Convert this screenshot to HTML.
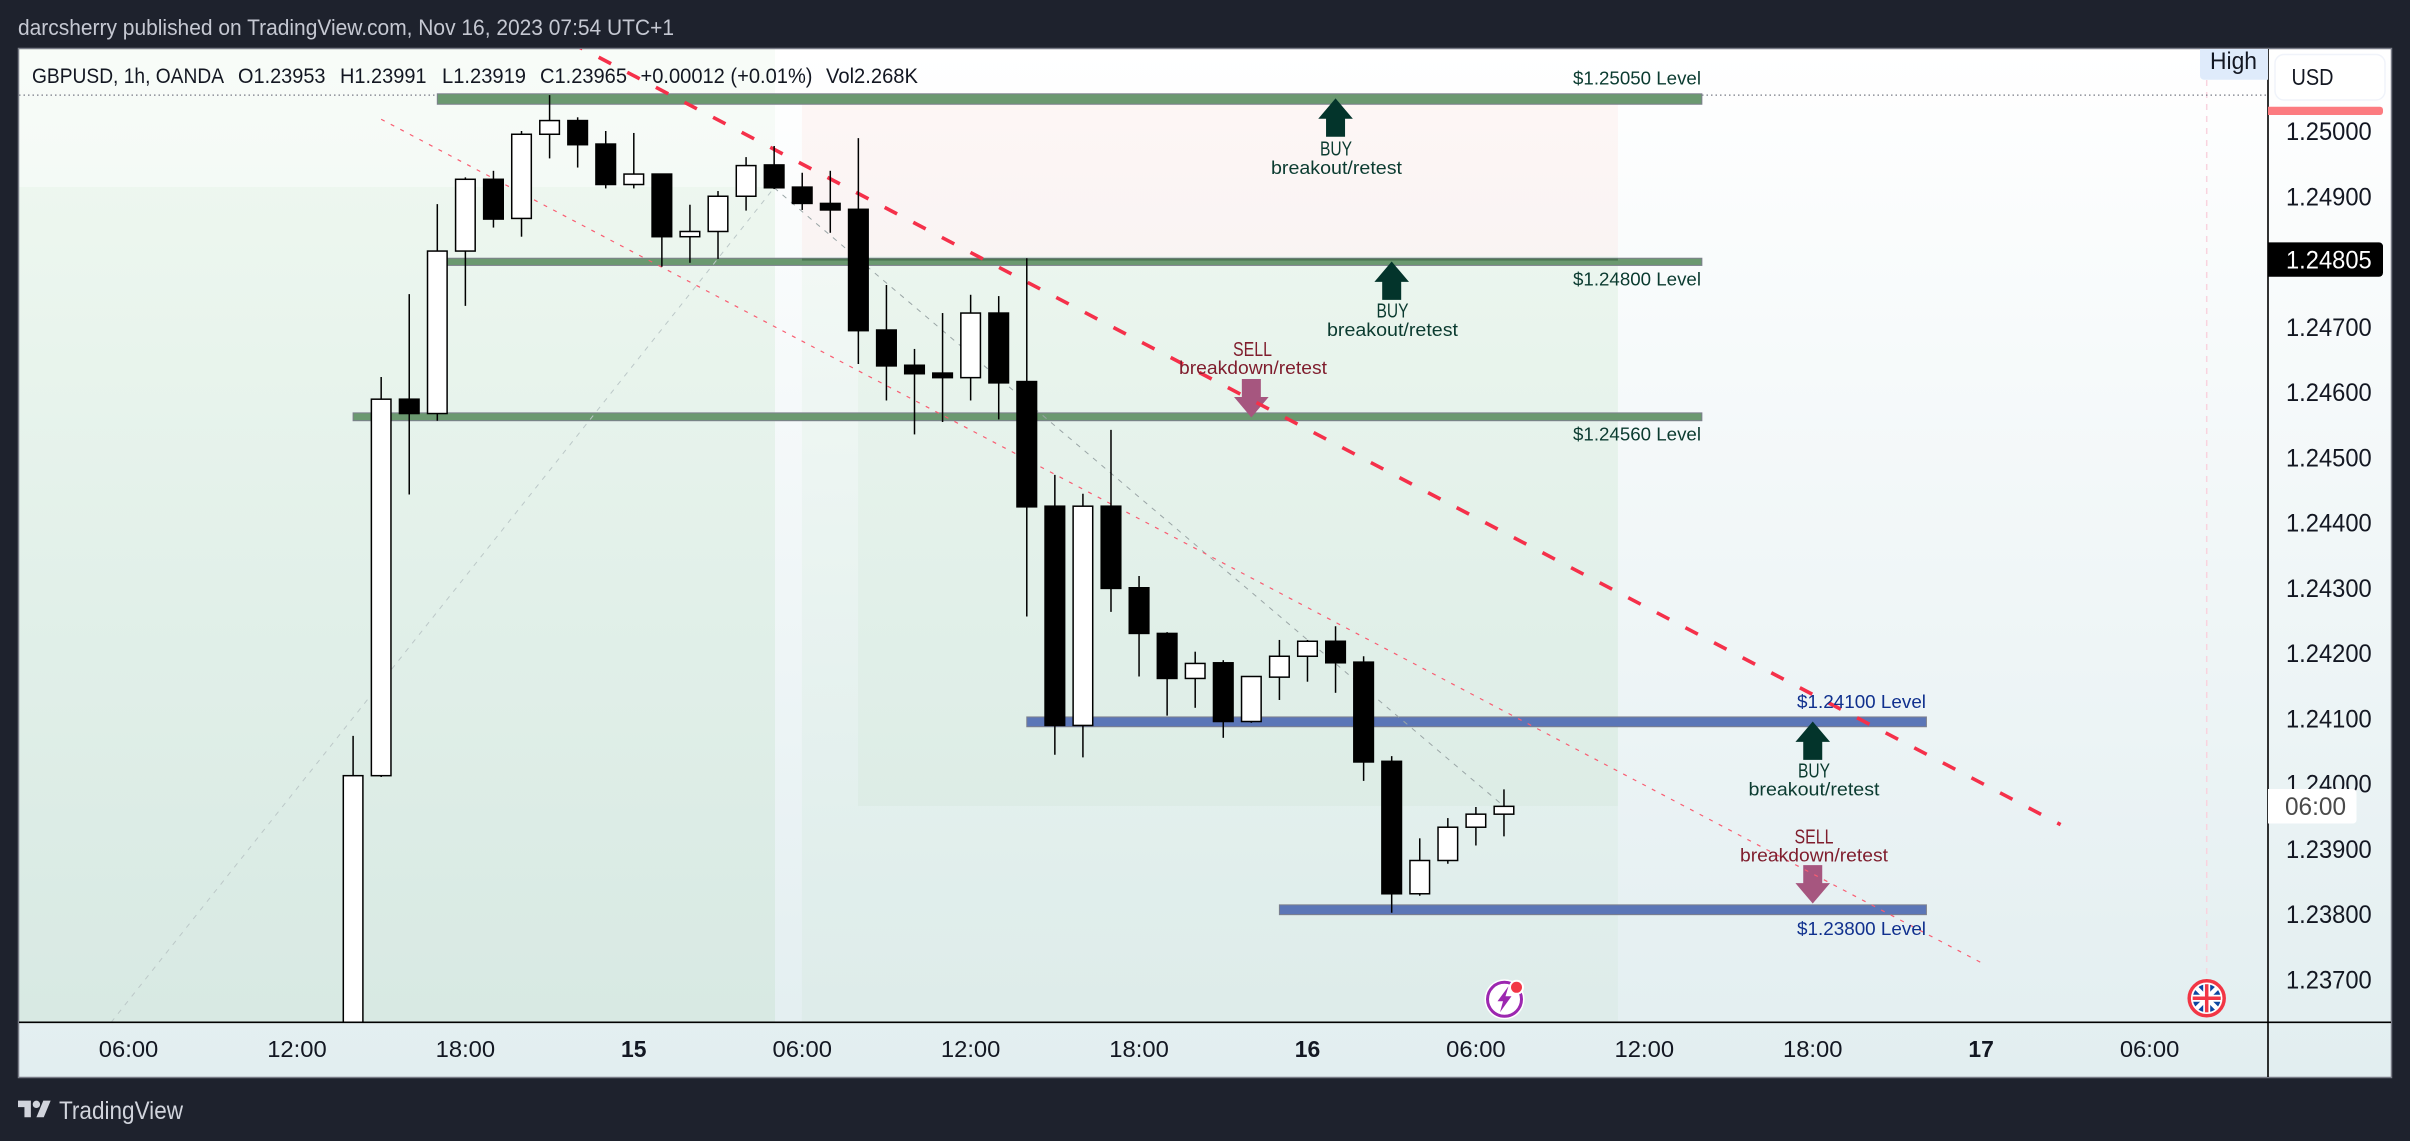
<!DOCTYPE html>
<html lang="en">
<head>
<meta charset="utf-8">
<title>GBPUSD 1h chart</title>
<style>
html,body{margin:0;padding:0;background:#1e222d;width:2410px;height:1141px;overflow:hidden}
svg{display:block}
text{font-family:"Liberation Sans",sans-serif}
</style>
</head>
<body>
<svg id="chart" xmlns="http://www.w3.org/2000/svg" width="2410" height="1141" viewBox="0 0 2410 1141">
  <defs>
    <linearGradient id="paneGrad" x1="0" y1="0" x2="0" y2="1">
      <stop offset="0" stop-color="#ffffff"/>
      <stop offset="1" stop-color="#e2eef0"/>
    </linearGradient>
    <clipPath id="paneClip"><rect x="19" y="49" width="2249" height="973"/></clipPath>
  </defs>
  <rect x="0" y="0" width="2410" height="1141" fill="#1e222d"/>
  <text x="18" y="35" font-size="22" fill="#c5c8d2" textLength="656" lengthAdjust="spacingAndGlyphs">darcsherry published on TradingView.com, Nov 16, 2023 07:54 UTC+1</text>
  <rect x="18.5" y="48.5" width="2373" height="1029" fill="url(#paneGrad)" stroke="#787b86" stroke-width="1.5"/>
  <g id="paneLayer" clip-path="url(#paneClip)"></g>
  <g font-size="18">
    <text x="1573" y="84.5" fill="#0b3b30" textLength="128" lengthAdjust="spacingAndGlyphs">$1.25050 Level</text>
    <text x="1573" y="285.5" fill="#0b3b30" textLength="128" lengthAdjust="spacingAndGlyphs">$1.24800 Level</text>
    <text x="1573" y="440.5" fill="#0b3b30" textLength="128" lengthAdjust="spacingAndGlyphs">$1.24560 Level</text>
    <text x="1797" y="708" fill="#10308e" textLength="129" lengthAdjust="spacingAndGlyphs">$1.24100 Level</text>
    <text x="1797" y="935" fill="#10308e" textLength="129" lengthAdjust="spacingAndGlyphs">$1.23800 Level</text>
    <text x="1320" y="155.5" fill="#0b3b30" font-size="20" textLength="32" lengthAdjust="spacingAndGlyphs">BUY</text>
    <text x="1271" y="174" fill="#0b3b30" textLength="131" lengthAdjust="spacingAndGlyphs">breakout/retest</text>
    <text x="1376.5" y="317.5" fill="#0b3b30" font-size="20" textLength="32" lengthAdjust="spacingAndGlyphs">BUY</text>
    <text x="1327" y="336" fill="#0b3b30" textLength="131" lengthAdjust="spacingAndGlyphs">breakout/retest</text>
    <text x="1798" y="777.5" fill="#0b3b30" font-size="20" textLength="32" lengthAdjust="spacingAndGlyphs">BUY</text>
    <text x="1748.5" y="795.5" fill="#0b3b30" textLength="131" lengthAdjust="spacingAndGlyphs">breakout/retest</text>
    <text x="1233" y="356" fill="#7f1d2d" font-size="20" textLength="39" lengthAdjust="spacingAndGlyphs">SELL</text>
    <text x="1179" y="374" fill="#7f1d2d" textLength="148" lengthAdjust="spacingAndGlyphs">breakdown/retest</text>
    <text x="1794.5" y="843.5" fill="#7f1d2d" font-size="20" textLength="39" lengthAdjust="spacingAndGlyphs">SELL</text>
    <text x="1740" y="861.5" fill="#7f1d2d" textLength="148" lengthAdjust="spacingAndGlyphs">breakdown/retest</text>
  </g>
  <g font-size="21" fill="#131722">
    <text x="32" y="83" textLength="192" lengthAdjust="spacingAndGlyphs">GBPUSD, 1h, OANDA</text>
    <text x="238" y="83" textLength="87.5" lengthAdjust="spacingAndGlyphs">O1.23953</text>
    <text x="340" y="83" textLength="86.5" lengthAdjust="spacingAndGlyphs">H1.23991</text>
    <text x="442" y="83" textLength="84" lengthAdjust="spacingAndGlyphs">L1.23919</text>
    <text x="540" y="83" textLength="87" lengthAdjust="spacingAndGlyphs">C1.23965</text>
    <text x="640.5" y="83" textLength="172" lengthAdjust="spacingAndGlyphs">+0.00012 (+0.01%)</text>
    <text x="826" y="83" textLength="92" lengthAdjust="spacingAndGlyphs">Vol2.268K</text>
  </g>
  <g id="axisLayer"></g>
  <path d="M2200 49H2268V79.7H2204a4 4 0 0 1-4-4Z" fill="#dfebfb"/>
  <text x="2210" y="69" font-size="24" fill="#131722" textLength="47" lengthAdjust="spacingAndGlyphs">High</text>
  <rect x="2275" y="54.5" width="110" height="45.5" rx="9" fill="#ffffff" stroke="#f0f3fa" stroke-width="1.5"/>
  <text x="2291.5" y="85" font-size="23" fill="#131722" textLength="42" lengthAdjust="spacingAndGlyphs">USD</text>
  <g transform="translate(1504.5 999.3)">
    <circle r="20" fill="#ffffff"/>
    <circle r="17" fill="#ffffff" stroke="#9c27b0" stroke-width="3"/>
    <path d="M4-13-7 2H-1.500L-4.500 13 7-3H1Z" fill="#9c27b0"/>
    <circle cx="12" cy="-12" r="7.5" fill="#ffffff"/>
    <circle cx="12" cy="-12" r="5.5" fill="#f23645"/>
  </g>
  <g transform="translate(2206.7 998.3)">
    <circle r="17.5" fill="#ffffff" stroke="#f23645" stroke-width="3.5"/>
    <circle r="14" fill="#0c47a1"/>
    <path d="M-10-10 10 10M10-10-10 10" stroke="#ffffff" stroke-width="4.5"/>
    <path d="M0-14V14M-14 0H14" stroke="#ffffff" stroke-width="7"/>
    <path d="M0-14V14M-14 0H14" stroke="#f23645" stroke-width="3.5"/>
  </g>
  <g transform="translate(18 1097) scale(.92)">
    <path d="M14 22H7V11H0V4h14v18zM28 22h-8l7.5-18h8L28 22z" fill="#d1d4dc"/>
    <circle cx="20" cy="8" r="4" fill="#d1d4dc"/>
  </g>
  <text x="59" y="1119" font-size="25" fill="#d1d4dc" textLength="124" lengthAdjust="spacingAndGlyphs">TradingView</text>
</svg>
<script>
// Candle values (price)
const candleOpen  = [1.23620,1.24012,1.24589,1.24567,1.24816,1.24926,1.24866,1.24995,1.25016,1.24980,1.24918,1.24934,1.24838,1.24846,1.24900,1.24948,1.24914,1.24889,1.24880,1.24695,1.24641,1.24629,1.24622,1.24721,1.24616,1.24425,1.24089,1.24425,1.24300,1.24230,1.24161,1.24185,1.24095,1.24163,1.24195,1.24218,1.24186,1.24034,1.23831,1.23882,1.23933,1.23953];
const candleHigh  = [1.24073,1.24623,1.24750,1.24888,1.24929,1.24939,1.25000,1.25055,1.25021,1.25000,1.24997,1.24934,1.24887,1.24908,1.24960,1.24977,1.24936,1.24939,1.24989,1.24764,1.24666,1.24721,1.24749,1.24747,1.24805,1.24473,1.24444,1.24542,1.24318,1.24232,1.24202,1.24189,1.24164,1.24220,1.24220,1.24241,1.24195,1.24042,1.23916,1.23947,1.23964,1.23991];
const candleLow   = [1.23600,1.24010,1.24443,1.24556,1.24732,1.24852,1.24838,1.24958,1.24944,1.24912,1.24912,1.24792,1.24798,1.24804,1.24878,1.24911,1.24879,1.24844,1.24643,1.24587,1.24535,1.24554,1.24587,1.24558,1.24256,1.24044,1.24040,1.24263,1.24164,1.24104,1.24116,1.24070,1.24093,1.24128,1.24156,1.24139,1.24004,1.23802,1.23828,1.23877,1.23905,1.23919];
const candleClose = [1.24012,1.24589,1.24567,1.24816,1.24926,1.24865,1.24995,1.25016,1.24979,1.24918,1.24934,1.24838,1.24846,1.24900,1.24947,1.24913,1.24889,1.24879,1.24694,1.24640,1.24628,1.24622,1.24721,1.24614,1.24424,1.24089,1.24425,1.24299,1.24230,1.24161,1.24184,1.24095,1.24164,1.24195,1.24218,1.24185,1.24033,1.23831,1.23882,1.23933,1.23953,1.23965];

// Axis ticks
const priceTicks = [1.25000,1.24900,1.24800,1.24700,1.24600,1.24500,1.24400,1.24300,1.24200,1.24100,1.24000,1.23900,1.23800,1.23700];
const timeTickBars = [-8,-2,4,10,16,22,28,34,40,46,52,58,64];
const timeTickLabels = ["06:00","12:00","18:00","15","06:00","12:00","18:00","16","06:00","12:00","18:00","17","06:00"];

// Level zones: price top / bottom, bar start / end
const zoneTops    = [1.25057,1.24805,1.24568,1.24102,1.23814];
const zoneBottoms = [1.25041,1.24794,1.24556,1.24087,1.23799];
const zoneStarts  = [3,3,0,24,33];
const zoneEnds    = [48.05,48.05,48.05,56.05,56.05];

// Trend lines: bar / price endpoints
const resistanceBars = [7.73,60.83];
const resistancePrices = [1.25136,1.23937];
const channelBars = [1,58.02];
const channelPrices = [1.25018,1.23725];
const zigzagBars = [-8.62,15,41];
const zigzagPrices = [1.23634,1.24913,1.23965];

// Arrow markers
const arrowBars = [35,37,52,32,52];
const arrowPrices = [1.25050,1.24800,1.24095,1.24561,1.23816];
const arrowDirections = [1,1,1,-1,-1];

// Current-price badge and high marker
const lastPriceTag = [1.24805];
const highPrice = [1.25055];

const PANE = {l:19,r:2268,t:49,b:1022};
const NS = 'http://www.w3.org/2000/svg';
function xOf(bar){ return 353.1 + 28.07*bar; }
function yOf(price){ return 131 + (1.25 - price)*65250; }
function make(parent,tag,attrs,txt){
  const el = document.createElementNS(NS,tag);
  for(const k in attrs) el.setAttribute(k,attrs[k]);
  if(txt!==undefined) el.textContent = txt;
  parent.appendChild(el);
  return el;
}
const pane = document.getElementById('paneLayer');
const axes = document.getElementById('axisLayer');

// Position tool backgrounds
const bgGreen = 'rgba(76,175,80,.04)';
let el;
el = make(pane,'rect',{x:PANE.l,y:PANE.t,width:xOf(15.03)-PANE.l,height:PANE.b-PANE.t,fill:bgGreen});


el = make(pane,'rect',{x:PANE.l,y:187,width:xOf(15.03)-PANE.l,height:PANE.b-187,fill:bgGreen});


el = make(pane,'rect',{x:xOf(15.99),y:yOf(1.2505),width:xOf(45.06)-xOf(15.99),height:yOf(1.24808)-yOf(1.2505),fill:'rgba(244,67,54,.045)'});


el = make(pane,'rect',{x:xOf(15.99),y:yOf(1.24808),width:xOf(45.06)-xOf(15.99),height:PANE.b-yOf(1.24808),fill:bgGreen});


el = make(pane,'rect',{x:xOf(17.99),y:yOf(1.24808),width:xOf(45.06)-xOf(17.99),height:806-yOf(1.24808),fill:bgGreen});



// Event line and high-price dotted line
el = make(pane,'line',{x1:2206.7,x2:2206.7,y1:80,y2:978,stroke:'#f9d3de','stroke-width':1.5,'stroke-dasharray':'6 6'});


el = make(pane,'line',{x1:PANE.l,x2:PANE.r,y1:yOf(highPrice[0]),y2:yOf(highPrice[0]),stroke:'#787b86','stroke-width':1.3,'stroke-dasharray':'1.5 3'});



// Level zones
zoneTops.forEach(function(top,i){
  const blue = i>=3;
  const r = make(pane,'rect',{x:xOf(zoneStarts[i]),y:yOf(top),width:xOf(zoneEnds[i])-xOf(zoneStarts[i]),height:yOf(zoneBottoms[i])-yOf(top),fill:blue?'#5b76b7':'#6b9970',stroke:'#7c7f8c','stroke-width':1});
  
  
});
el = make(pane,'rect',{x:xOf(15.99),y:258.6,width:xOf(45.06)-xOf(15.99),height:2,fill:'#4d7653'});



// Arrows
arrowBars.forEach(function(bar,i){
  const d = arrowDirections[i], tipX = xOf(bar), tipY = yOf(arrowPrices[i]);
  const pts = [[0,0],[17.3,20.4],[9.5,20.4],[9.5,38.4],[-9.5,38.4],[-9.5,20.4],[-17.3,20.4]]
    .map(function(p){ return (tipX+p[0])+','+(tipY+d*p[1]); }).join(' ');
  const a = make(pane,'polygon',{points:pts,fill:d>0?'#03342b':'#a6567f'});
  
  
});

// Trend lines
function polyPts(bars,prices){ return bars.map(function(b,i){ return xOf(b)+','+yOf(prices[i]); }).join(' '); }
el = make(pane,'polyline',{points:polyPts(zigzagBars.slice(0,2),zigzagPrices.slice(0,2)),fill:'none',stroke:'#bcc8c8','stroke-width':1,'stroke-dasharray':'5 6'});


el = make(pane,'polyline',{points:polyPts(zigzagBars.slice(1),zigzagPrices.slice(1)),fill:'none',stroke:'#9aa5a6','stroke-width':1,'stroke-dasharray':'5 6'});


el = make(pane,'polyline',{points:polyPts(channelBars,channelPrices),fill:'none',stroke:'#f95d72','stroke-width':1.2,'stroke-dasharray':'4 6.8'});


el = make(pane,'polyline',{points:polyPts(resistanceBars,resistancePrices),fill:'none',stroke:'#f5304a','stroke-width':3.6,'stroke-dasharray':'14 18.3'});



// Candles
candleOpen.forEach(function(o,i){
  const c = candleClose[i], h = candleHigh[i], l = candleLow[i], x = xOf(i);
  const up = c>=o;
  const wick = make(pane,'line',{x1:x,x2:x,y1:yOf(h),y2:yOf(l),stroke:'#000','stroke-width':1.5});
  
  
  const top = yOf(Math.max(o,c)), bot = yOf(Math.min(o,c));
  const body = make(pane,'rect',{x:x-9.8,y:top,width:19.6,height:Math.max(bot-top,1),fill:up?'#ffffff':'#000000',stroke:'#000','stroke-width':1.5});
  
  
});

// Axis lines
el = make(axes,'line',{x1:2268,x2:2268,y1:49,y2:1077,stroke:'#000','stroke-width':1.6});


el = make(axes,'line',{x1:19,x2:2391,y1:1022.3,y2:1022.3,stroke:'#000','stroke-width':1.6});



// Price ticks
priceTicks.forEach(function(p){
  const t = make(axes,'text',{x:2286,y:yOf(p)+9,'font-size':25,fill:'#131722',textLength:85.7,lengthAdjust:'spacingAndGlyphs'},p.toFixed(5));
  
  
});

// Time ticks
timeTickBars.forEach(function(b,i){
  const label = timeTickLabels[i], bold = label.length===2, w = bold?25.5:59.5;
  const t = make(axes,'text',{x:xOf(b)-w/2,y:1057,'font-size':23,'font-weight':bold?700:400,fill:'#131722',textLength:w,lengthAdjust:'spacingAndGlyphs'},label);
  
  
});

// Price scale badges
el = make(axes,'path',{d:'M2268 106.7H2380a3 3 0 0 1 3 3V112a3 3 0 0 1-3 3H2268Z',fill:'#fc7b80'});


const tagY = yOf(lastPriceTag[0]) + 1.3;
el = make(axes,'path',{d:'M2268 '+(tagY-17.2)+'H2379a4 4 0 0 1 4 4V'+(tagY+13.2)+'a4 4 0 0 1-4 4H2268Z',fill:'#000000'});


el = make(axes,'text',{x:2286,y:tagY+9,'font-size':25,fill:'#ffffff',textLength:85.7,lengthAdjust:'spacingAndGlyphs'},lastPriceTag[0].toFixed(5));


el = make(axes,'path',{d:'M2268 789H2353a3.5 3.5 0 0 1 3.5 3.5V820a3.5 3.5 0 0 1-3.5 3.5H2268Z',fill:'#ffffff'});


el = make(axes,'text',{x:2285,y:815,'font-size':25,fill:'#4a4a4a',textLength:61,lengthAdjust:'spacingAndGlyphs'},'06:00');


</script>
</body>
</html>
